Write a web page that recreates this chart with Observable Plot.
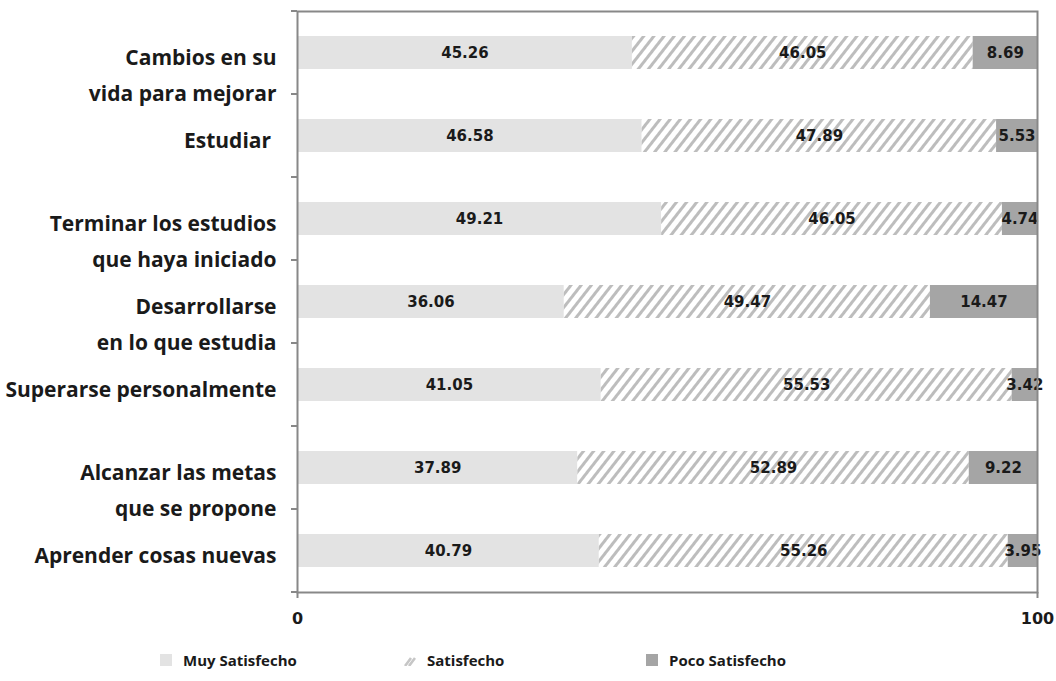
<!DOCTYPE html>
<html>
<head>
<meta charset="utf-8">
<script src="https://cdn.jsdelivr.net/npm/d3@7"></script>
<script src="https://cdn.jsdelivr.net/npm/@observablehq/plot@0.6"></script>
<style>
  html, body { margin: 0; padding: 0; background: #fff; }
  #wrap { position: relative; width: 1056px; height: 681px; }
  #legend { position: absolute; left: 0; top: 648px; width: 1056px; height: 24px;
            font-family: "Open Sans", sans-serif; font-weight: bold; font-size: 15px; color: #1a1a1a; }
  .item { position: absolute; top: 0; display: flex; align-items: center; height: 24px; }
  .item svg { margin-right: 11px; }
</style>
</head>
<body>
<div id="wrap"><div id="chart"></div><div id="legend"></div></div>
<script>
const categories = [
  "Cambios en su\nvida para mejorar",
  "Estudiar\u00a0",
  "Terminar los estudios\nque haya iniciado",
  "Desarrollarse\nen lo que estudia",
  "Superarse personalmente",
  "Alcanzar las metas\nque se propone",
  "Aprender cosas nuevas"
];
const seriesNames = ["Muy Satisfecho", "Satisfecho", "Poco Satisfecho"];
const muySatisfecho = [45.26, 46.58, 49.21, 36.06, 41.05, 37.89, 40.79];
const satisfecho    = [46.05, 47.89, 46.05, 49.47, 55.53, 52.89, 55.26];
const pocoSatisfecho = [8.69, 5.53, 4.74, 14.47, 3.42, 9.22, 3.95];
const xTicks = [0, 100];
const colors = ["#e3e3e3", "url(#hatch)", "#a5a5a5"];

const seriesValues = [muySatisfecho, satisfecho, pocoSatisfecho];
const data = [];
categories.forEach((c, i) => {
  seriesNames.forEach((s, j) => data.push({category: c, series: s, value: seriesValues[j][i]}));
});

const defsMark = () => {
  const defs = d3.create("svg:defs");
  const p = defs.append("pattern").attr("id", "hatch").attr("patternUnits", "userSpaceOnUse")
    .attr("width", 8).attr("height", 8).attr("patternTransform", "rotate(38)");
  p.append("rect").attr("width", 8).attr("height", 8).attr("fill", "#ffffff");
  p.append("rect").attr("x", 0).attr("width", 3).attr("height", 8).attr("fill", "#bdbdbd");
  return defs.node();
};

const yTickMark = (index, scales, values, dimensions) => {
  const {marginLeft, marginTop, marginBottom, height} = dimensions;
  const n = categories.length;
  const step = (height - marginTop - marginBottom) / n;
  const g = d3.create("svg:g").attr("stroke", "#888888").attr("stroke-width", 2);
  for (let i = 0; i <= n; i++) {
    const yy = marginTop + i * step;
    g.append("line").attr("x1", marginLeft - 6).attr("x2", marginLeft).attr("y1", yy).attr("y2", yy);
  }
  return g.node();
};

const chart = Plot.plot({
  width: 1056,
  height: 640,
  marginLeft: 297,
  marginRight: 19,
  marginTop: 11,
  marginBottom: 48,
  x: {domain: [0, 100], axis: null},
  y: {domain: categories, axis: null, paddingInner: 0.6, paddingOuter: 0.3},
  color: {domain: seriesNames, range: colors},
  style: {fontFamily: "DejaVu Sans, sans-serif", background: "#fff"},
  marks: [
    defsMark,
    Plot.barX(data, Plot.stackX({x: "value", y: "category", fill: "series", order: seriesNames})),
    Plot.text(data, Plot.stackX({x: "value", y: "category", z: "series", order: seriesNames,
      text: d => d.value.toFixed(2), fill: "#1a1a1a", fontWeight: "bold", fontSize: 15})),
    Plot.frame({stroke: "#888888", strokeWidth: 2}),
    yTickMark,
    Plot.axisX({ticks: xTicks, tickSize: 6, tickPadding: 14, stroke: "#888888", strokeWidth: 2,
      fill: "#1a1a1a", fontWeight: "bold", fontSize: 16, tickFormat: d => String(d), label: null}),
    Plot.text(categories, {x: 0, y: d => d, text: d => d, textAnchor: "end", dx: -21,
      lineAnchor: "top", dy: -13, lineHeight: 1.7, fontSize: 21, fontWeight: "bold",
      fontFamily: "Open Sans, sans-serif", fill: "#1a1a1a"})
  ]
});
document.getElementById("chart").appendChild(chart);

const legend = document.getElementById("legend");
const legendX = [160, 404, 646];
seriesNames.forEach((s, j) => {
  const item = document.createElement("div");
  item.className = "item";
  item.style.left = legendX[j] + "px";
  const sw = d3.create("svg").attr("width", 12).attr("height", 12);
  if (j === 1) {
    sw.append("path").attr("d", "M1,12 L7,4 M5,12 L11,4").attr("stroke", "#c6c6c6").attr("stroke-width", 2.6);
  } else {
    sw.append("rect").attr("width", 12).attr("height", 12).attr("fill", colors[j]);
  }
  item.appendChild(sw.node());
  const t = document.createElement("span");
  t.textContent = s;
  item.appendChild(t);
  legend.appendChild(item);
});
</script>
</body>
</html>
